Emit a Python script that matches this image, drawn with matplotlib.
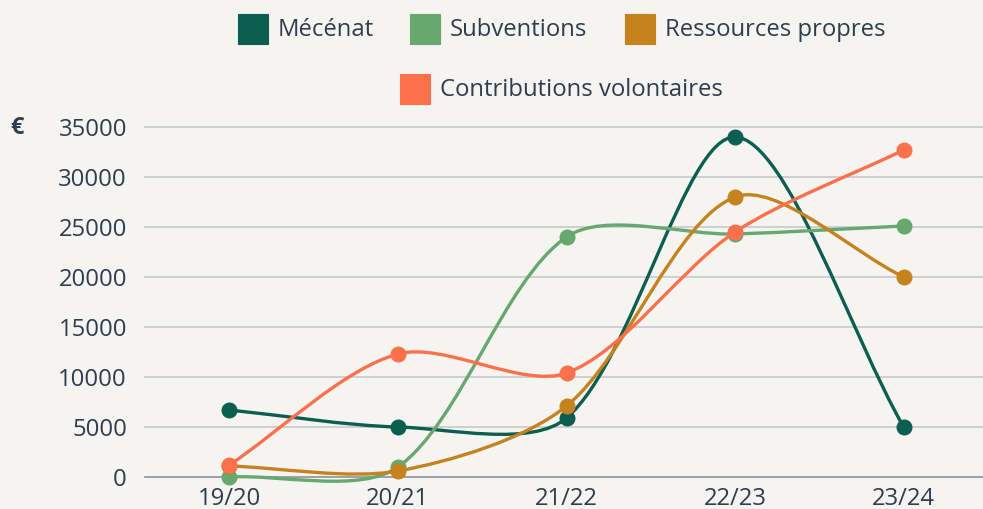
import numpy as np
import matplotlib
matplotlib.use("Agg")
import matplotlib.pyplot as plt
from matplotlib.path import Path
from matplotlib.patches import PathPatch, Rectangle

categories = ["19/20", "20/21", "21/22", "22/23", "23/24"]
series_names = ["Mécénat", "Subventions", "Ressources propres", "Contributions volontaires"]
mecenat = [6700, 5000, 5900, 34000, 5000]
subventions = [0, 1000, 24000, 24300, 25100]
ressources = [1100, 600, 7100, 28000, 20000]
contributions = [1200, 12300, 10400, 24500, 32700]
colors = ["#0b5e50", "#66a86e", "#c5821e", "#fd704c"]
yticks = [0, 5000, 10000, 15000, 20000, 25000, 30000, 35000]

BG = "#f5f4f0"
TXT = "#2e3d4f"
W, H = 983, 509
FS = 17.2
plt.rcParams['font.family'] = ['Open Sans', 'DejaVu Sans']

fig = plt.figure(figsize=(W / 100, H / 100), dpi=100, facecolor=BG)
x0, x1 = 145, 988
yb, yt = 477, 127
ax = fig.add_axes([x0 / W, (H - yb) / H, (x1 - x0) / W, (yb - yt) / H])
ax.set_facecolor(BG)
ax.set_xlim(-0.5, len(categories) - 0.5)
ax.set_ylim(0, 35000)
for s in ax.spines.values():
    s.set_visible(False)

for v in yticks:
    ax.axhline(v, color="#8d9199" if v == 0 else "#c9c9cc", lw=1.2, zorder=1, clip_on=False)

ax.set_yticks(yticks)
ax.set_yticklabels([str(v) for v in yticks], fontsize=FS, color=TXT)
ax.set_xticks(range(len(categories)))
ax.set_xticklabels(categories, fontsize=FS, color=TXT)
ax.tick_params(axis='y', length=0, pad=13)
ax.tick_params(axis='x', length=0, pad=7)

sx = (x1 - x0) / len(categories)
sy = (yb - yt) / 35000.0
tension = 0.3


def spline_path(xs, ys):
    px = np.array(xs, float) * sx
    py = np.array(ys, float) * sy
    n = len(px)
    cps = []
    for i in range(n):
        pi = max(i - 1, 0)
        ni = min(i + 1, n - 1)
        d01 = np.hypot(px[i] - px[pi], py[i] - py[pi])
        d12 = np.hypot(px[ni] - px[i], py[ni] - py[i])
        tot = d01 + d12
        s01 = d01 / tot if tot else 0
        s12 = d12 / tot if tot else 0
        fa, fb = tension * s01, tension * s12
        dx, dy = px[ni] - px[pi], py[ni] - py[pi]
        cps.append(((px[i] - fa * dx, py[i] - fa * dy), (px[i] + fb * dx, py[i] + fb * dy)))
    verts = [(px[0], py[0])]
    codes = [Path.MOVETO]
    for i in range(n - 1):
        verts += [cps[i][1], cps[i + 1][0], (px[i + 1], py[i + 1])]
        codes += [Path.CURVE4] * 3
    verts = [(a / sx, b / sy) for a, b in verts]
    return Path(verts, codes)


xs = list(range(len(categories)))
data = [mecenat, subventions, ressources, contributions]
for k, (vals, c) in enumerate(zip(data, colors)):
    patch = PathPatch(spline_path(xs, vals), facecolor="none", edgecolor=c, lw=2.4,
                      zorder=3 + k, clip_on=False, capstyle='round', joinstyle='round')
    ax.add_patch(patch)
    ax.plot(xs, vals, 'o', color=c, ms=10.5, zorder=3 + k, clip_on=False)

# euro label
fig.text(10 / W, 1 - 128 / H, "€", fontsize=17, fontweight='bold', color=TXT,
         ha='left', va='center')

# legend (Chart.js style, centered rows)
legend_items = [(238, 29, 0), (410, 29, 1), (625, 29, 2), (400, 89, 3)]
for lx, ly, idx in legend_items:
    fig.patches.append(Rectangle((lx / W, 1 - (ly + 15) / H), 30 / W, 30 / H,
                                 transform=fig.transFigure, facecolor=colors[idx],
                                 edgecolor=colors[idx], lw=0.8, alpha=1))
    fig.text((lx + 40) / W, 1 - (ly + 1.5) / H, series_names[idx], fontsize=FS, color=TXT,
             ha='left', va='center')

fig.savefig("out.png", dpi=100, facecolor=BG)
